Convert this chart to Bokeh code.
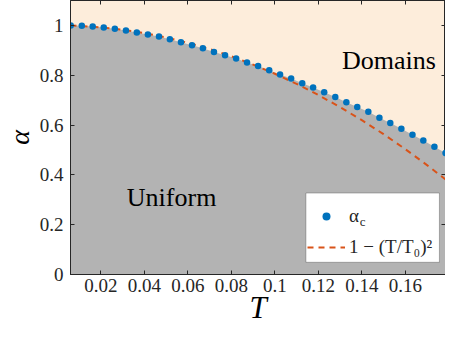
from bokeh.plotting import figure
from bokeh.models import (Legend, LegendItem, Range1d, FixedTicker, LinearAxis,
                          Label, BoxAnnotation)
from bokeh.embed import file_html
from bokeh.resources import INLINE

# critical alpha (blue dots)
T_c = [0.0061, 0.0112, 0.0162, 0.0213, 0.0264, 0.0315, 0.0365, 0.0416, 0.0467,
       0.0517, 0.0568, 0.0619, 0.0669, 0.0720, 0.0771, 0.0822, 0.0872, 0.0923,
       0.0974, 0.1024, 0.1075, 0.1126, 0.1176, 0.1227, 0.1278, 0.1329, 0.1379,
       0.1430, 0.1481, 0.1531, 0.1582, 0.1633, 0.1683, 0.1734, 0.1785]
alpha_c = [1.000, 0.999, 0.996, 0.992, 0.987, 0.980, 0.972, 0.964, 0.955,
           0.944, 0.932, 0.920, 0.908, 0.893, 0.880, 0.867, 0.851, 0.837,
           0.820, 0.803, 0.787, 0.768, 0.751, 0.732, 0.713, 0.692, 0.672,
           0.653, 0.629, 0.608, 0.585, 0.561, 0.538, 0.513, 0.488]

# fit curve 1 - (T/T0)^2 (orange dashed)
T_fit = [0.006, 0.01, 0.02, 0.03, 0.04, 0.05, 0.06, 0.07, 0.08, 0.09, 0.10,
         0.11, 0.12, 0.13, 0.14, 0.15, 0.16, 0.17, 0.18]
alpha_fit = [0.9993, 0.9981, 0.9922, 0.9825, 0.969, 0.9515, 0.930, 0.9049,
             0.8758, 0.8428, 0.8059, 0.7652, 0.7205, 0.6720, 0.6196, 0.5634,
             0.5032, 0.4392, 0.3712]

x_ticks = [0.02, 0.04, 0.06, 0.08, 0.10, 0.12, 0.14, 0.16]
x_tick_labels = ["0.02", "0.04", "0.06", "0.08", "0.1", "0.12", "0.14", "0.16"]
y_ticks = [0, 0.2, 0.4, 0.6, 0.8, 1.0]
y_tick_labels = ["0", "0.2", "0.4", "0.6", "0.8", "1"]

FONT = "Liberation Serif"
TXT = "#262626"
BLUE = "#0072BD"
ORANGE = "#D95319"
GRAY = "#b3b3b3"
PEACH = "#fdeddb"

p = figure(width=445, height=327, x_range=Range1d(0.006, 0.1785),
           y_range=Range1d(0, 1.1), output_backend="svg", toolbar_location=None,
           min_border_left=10, min_border_right=0, min_border_top=0,
           min_border_bottom=0)
p.background_fill_color = PEACH
p.border_fill_color = "white"
p.outline_line_color = TXT
p.outline_line_width = 1
p.grid.visible = False

p.varea(x=T_c, y1=0, y2=alpha_c, fill_color=GRAY)
dash = p.line(T_fit, alpha_fit, line_color=ORANGE, line_width=2, line_dash="6 5")
dots = p.scatter(T_c, alpha_c, size=6.5, fill_color=BLUE, line_color=None)


def style_axis(ax, ticks, labels, show_labels=True):
    ax.ticker = FixedTicker(ticks=ticks)
    if show_labels:
        ax.major_label_overrides = {t: l for t, l in zip(ticks, labels)}
    else:
        ax.major_label_overrides = {t: "" for t in ticks}
    ax.axis_line_color = TXT
    ax.major_tick_line_color = TXT
    ax.major_tick_in = 4
    ax.major_tick_out = 0
    ax.minor_tick_line_color = None
    ax.major_label_text_font = FONT
    ax.major_label_text_font_size = "19px"
    ax.major_label_text_color = TXT
    ax.axis_label_text_font = FONT
    ax.axis_label_text_font_style = "italic"
    ax.axis_label_text_color = "black"


xa = p.xaxis[0]
ya = p.yaxis[0]
style_axis(xa, x_ticks, x_tick_labels)
style_axis(ya, y_ticks, y_tick_labels)
xa.axis_label = "T"
xa.axis_label_text_font_size = "31px"
xa.axis_label_standoff = -5
xa.major_label_standoff = 4
ya.axis_label = "α"
ya.axis_label_text_font_size = "28px"
ya.axis_label_standoff = 2
ya.major_label_standoff = 7

top = LinearAxis()
style_axis(top, x_ticks, x_tick_labels, show_labels=False)
top.major_label_standoff = 0
top.major_label_text_font_size = "0px"
p.add_layout(top, "above")
right = LinearAxis()
style_axis(right, y_ticks, y_tick_labels, show_labels=False)
right.major_label_standoff = 0
right.major_label_text_font_size = "0px"
p.add_layout(right, "right")

p.add_layout(Label(x=0.1525, y=0.86, text="Domains", text_font=FONT,
                   text_font_size="26px", text_align="center",
                   text_baseline="middle", text_color="black"))
p.add_layout(Label(x=0.0525, y=0.308, text="Uniform", text_font=FONT,
                   text_font_size="26px", text_align="center",
                   text_baseline="middle", text_color="black"))

# legend frame (white box with dark border)
p.add_layout(BoxAnnotation(left=0.1143, right=0.1757, bottom=0.049, top=0.327,
                           fill_color="white", fill_alpha=1, line_color=TXT,
                           line_width=1, level="annotation"))

legend = Legend(items=[LegendItem(label="α", renderers=[dots]),
                       LegendItem(label="1 − (T/T₀)²", renderers=[dash])],
                location=(237, 13))
legend.label_text_font = FONT
legend.label_text_font_size = "19px"
legend.label_text_color = TXT
legend.glyph_width = 38
legend.glyph_height = 20
legend.label_height = 29
legend.label_standoff = 4
legend.padding = 3
legend.spacing = 2
legend.margin = 0
legend.border_line_color = None
legend.background_fill_alpha = 0
p.add_layout(legend)

# subscript "c" of the legend's alpha
p.add_layout(Label(x=0.1391, y=0.212, text="c", text_font=FONT,
                   text_font_size="13px", text_align="left",
                   text_baseline="middle", text_color=TXT, level="overlay"))

open("out.html", "w").write(file_html(p, INLINE))
